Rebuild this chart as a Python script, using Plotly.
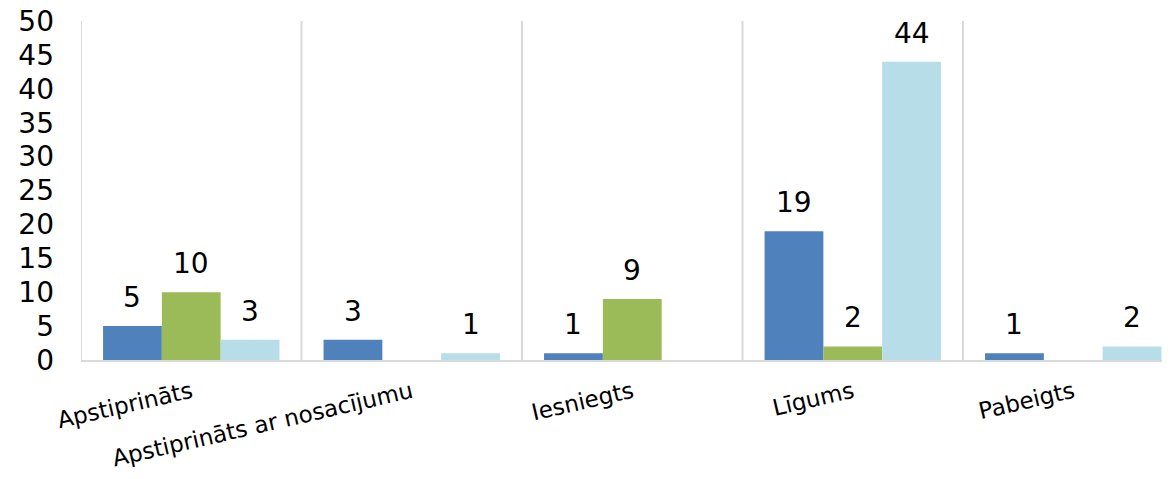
import plotly.graph_objects as go

categories = ["Apstiprināts", "Apstiprināts ar nosacījumu", "Iesniegts", "Līgums", "Pabeigts"]
series_a = [5, 3, 1, 19, 1]
series_b = [10, None, 9, 2, None]
series_c = [3, 1, None, 44, 2]
y_ticks = list(range(0, 55, 5))

colors = ["#4F81BD", "#9BBB59", "#B7DEE8"]
FONT = "DejaVu Sans"

fig = go.Figure()
all_series = [series_a, series_b, series_c]
idx = list(range(len(categories)))
for s, c in zip(all_series, colors):
    fig.add_trace(go.Bar(x=idx, y=s, marker=dict(color=c, line=dict(width=0)), showlegend=False))

bargap = 0.2
bw = (1 - bargap) / 3
annotations = []
for j, s in enumerate(all_series):
    for i, v in enumerate(s):
        if v is None:
            continue
        annotations.append(dict(x=i + (j - 1) * bw, y=v, xref="x", yref="y", text=str(v),
                                showarrow=False, yanchor="bottom", xanchor="center", yshift=10,
                                font=dict(family=FONT, size=28, color="#000000")))

# the page body adds an 8px offset; margins compensate for it
fig.update_layout(
    width=1170, height=479,
    margin=dict(l=73, r=0, t=13, b=127),
    paper_bgcolor="white", plot_bgcolor="white",
    barmode="group", bargap=bargap, bargroupgap=0,
    annotations=annotations,
    font=dict(family=FONT, color="#000000"),
)
fig.update_xaxes(
    type="linear", range=[-0.5, 4.475], tickmode="array", tickvals=idx, ticktext=categories,
    tickangle=-13, tickfont=dict(family=FONT, size=23, color="#000000"),
    showgrid=False, zeroline=False, showline=True, linecolor="#d9d9d9", linewidth=2,
    ticks="", ticklabelstandoff=8, automargin=False, ticklabeloverflow="allow",
)
# category separators
for k in range(len(categories) + 1):
    fig.add_shape(type="line", x0=k - 0.5, x1=k - 0.5, y0=0, y1=1, xref="x", yref="paper",
                  line=dict(color="#d9d9d9", width=2), layer="below")
fig.update_yaxes(
    range=[0, 50], tickmode="array", tickvals=y_ticks, showgrid=False, zeroline=False,
    showline=False, ticks="", ticklabelstandoff=26, automargin=False,
    ticklabeloverflow="allow",
    tickfont=dict(family=FONT, size=28, color="#000000"),
)

fig.write_html("out.html")
